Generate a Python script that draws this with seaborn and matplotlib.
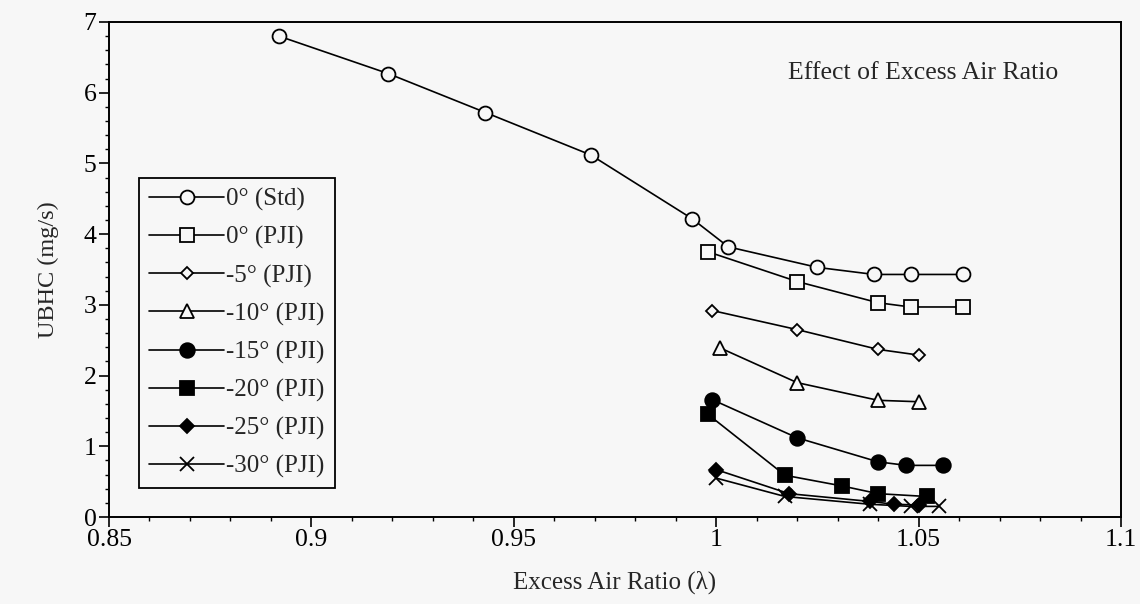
import numpy as np
import pandas as pd
import matplotlib
matplotlib.use("Agg")
import matplotlib.pyplot as plt
import seaborn as sns
from matplotlib.ticker import MultipleLocator, FixedLocator

# ---- data ----
labels = ["0° (Std)", "0° (PJI)", "-5° (PJI)", "-10° (PJI)",
          "-15° (PJI)", "-20° (PJI)", "-25° (PJI)", "-30° (PJI)"]

x_std = [0.892, 0.919, 0.943, 0.969, 0.994, 1.003, 1.025, 1.039, 1.048, 1.061]
y_std = [6.80, 6.27, 5.72, 5.12, 4.22, 3.82, 3.53, 3.43, 3.43, 3.43]

x_p0 = [0.998, 1.020, 1.040, 1.048, 1.061]
y_p0 = [3.75, 3.33, 3.03, 2.97, 2.97]

x_m5 = [0.999, 1.020, 1.040, 1.050]
y_m5 = [2.92, 2.65, 2.37, 2.29]

x_m10 = [1.001, 1.020, 1.040, 1.050]
y_m10 = [2.39, 1.90, 1.65, 1.63]

x_m15 = [0.999, 1.020, 1.040, 1.047, 1.056]
y_m15 = [1.66, 1.12, 0.78, 0.73, 0.73]

x_m20 = [0.998, 1.017, 1.031, 1.040, 1.052]
y_m20 = [1.45, 0.59, 0.44, 0.33, 0.29]

x_m25 = [1.000, 1.018, 1.038, 1.044, 1.050]
y_m25 = [0.67, 0.33, 0.22, 0.18, 0.17]

x_m30 = [1.000, 1.017, 1.038, 1.048, 1.055]
y_m30 = [0.55, 0.29, 0.18, 0.15, 0.15]

xs = [x_std, x_p0, x_m5, x_m10, x_m15, x_m20, x_m25, x_m30]
ys = [y_std, y_p0, y_m5, y_m10, y_m15, y_m20, y_m25, y_m30]

x_ticks = [0.85, 0.9, 0.95, 1.0, 1.05, 1.1]
x_ticklabels = ["0.85", "0.9", "0.95", "1", "1.05", "1.1"]
y_ticks = [0, 1, 2, 3, 4, 5, 6, 7]

# ---- style ----
sns.set_style("ticks")
bg = "#f7f7f7"
plt.rcParams["font.family"] = ["Liberation Serif", "DejaVu Serif"]

styles = [
    dict(marker="o", markerfacecolor=bg, ms=10),
    dict(marker="s", markerfacecolor=bg, ms=9.5),
    dict(marker="D", markerfacecolor=bg, ms=6.5),
    dict(marker="^", markerfacecolor=bg, ms=10.5),
    dict(marker="o", markerfacecolor="black", ms=10.5),
    dict(marker="s", markerfacecolor="black", ms=9.5),
    dict(marker="D", markerfacecolor="black", ms=7),
    dict(marker="x", markerfacecolor="black", ms=9.5, mew=1.3),
]

fig = plt.figure(figsize=(11.4, 6.04), dpi=100, facecolor=bg)
ax = fig.add_axes([109/1140, 1 - 517/604, (1121-109)/1140, (517-22)/604])
ax.set_facecolor(bg)

for xv, yv, lab, st in zip(xs, ys, labels, styles):
    df = pd.DataFrame({"x": xv, "y": yv})
    kw = dict(st)
    kw.setdefault("mew", 1.3)
    sns.lineplot(data=df, x="x", y="y", ax=ax, color="black", lw=1.2,
                 markeredgecolor="black", label=lab, sort=False, **kw)

ax.set_xlim(0.85, 1.1)
ax.set_ylim(0, 7)
ax.xaxis.set_major_locator(FixedLocator(x_ticks))
ax.set_xticklabels(x_ticklabels)
ax.yaxis.set_major_locator(FixedLocator(y_ticks))
ax.xaxis.set_minor_locator(MultipleLocator(0.01))
ax.yaxis.set_minor_locator(MultipleLocator(0.2))
ax.tick_params(axis="both", which="major", direction="out", length=7,
               width=1.2, labelsize=18.5, colors="black", pad=2)
ax.tick_params(axis="both", which="minor", direction="out", length=3,
               width=1.0, colors="black")
for sp in ax.spines.values():
    sp.set_linewidth(1.4)
    sp.set_color("black")

ax.set_xlabel("Excess Air Ratio (λ)", fontsize=18, labelpad=14)
ax.set_ylabel("UBHC (mg/s)", fontsize=17.5, labelpad=18)

ax.text(1.0845, 6.28, "Effect of Excess Air Ratio", fontsize=18.5,
        ha="right", va="center")

leg = ax.legend(loc="lower left", bbox_to_anchor=(139/1140, 1 - 488/604),
                bbox_transform=fig.transFigure, fontsize=18,
                handlelength=3.0, handletextpad=0.1, labelspacing=0.6,
                borderpad=0.4, borderaxespad=0, frameon=True, fancybox=False,
                edgecolor="black", facecolor=bg, framealpha=1)
leg.get_frame().set_linewidth(1.3)

fig.savefig("out.png", dpi=100, facecolor=bg)
